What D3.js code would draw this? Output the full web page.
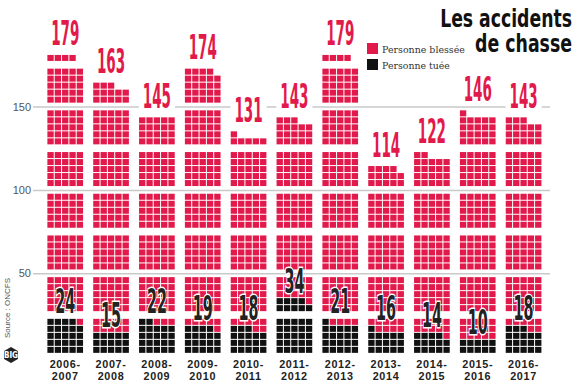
<!DOCTYPE html>
<html>
<head>
<meta charset="utf-8">
<script src="https://cdn.jsdelivr.net/npm/d3@7"></script>
<style>
body { margin: 0; background: #fff; }
</style>
</head>
<body>
<div class="canvas"></div>
<script>
const seasons = ["2006-2007", "2007-2008", "2008-2009", "2009-2010", "2010-2011", "2011-2012",
    "2012-2013", "2013-2014", "2014-2015", "2015-2016", "2016-2017"]
const totals = [179, 163, 145, 174, 131, 143, 179, 114, 122, 146, 143]
const killed = [24, 15, 22, 19, 18, 34, 21, 16, 14, 10, 18]
const yTicks = [50, 100, 150]
const legendLabels = ["Personne blessée", "Personne tuée"]
const titleLines = ["Les accidents", "de chasse"]

const red = "#e2194b"
const black = "#111"
const condensed = "'Liberation Sans Narrow', 'DejaVu Sans Condensed', 'Roboto', sans-serif"
const perRow = 5
const rowsPerBlock = 5
const rowH = 7

const svg = d3.select(".canvas").append("svg")
    .attr("width", 580)
    .attr("height", 386)

const x = d3.scaleBand()
    .domain(seasons)
    .range([42.3, 546.5])
    .paddingInner(0.2)
    .paddingOuter(0.1)
const y = d3.scaleLinear()
    .domain([0, 50])
    .range([356.7, 273.3])

const colW = x.bandwidth() / perRow
const blockSize = perRow * rowsPerBlock
const blockGap = y(0) - y(blockSize) - rowsPerBlock * rowH

// bottom edge of a row of squares, blocks of 5 rows are spaced apart
const rowBottom = row => {
    const block = Math.floor(row / rowsPerBlock)
    return y(block * blockSize) - blockGap / 2 - (row % rowsPerBlock) * rowH
}

// squeeze a text horizontally to a given width (condensed look)
const squeeze = (sel, w) => sel.each(function (d, i) {
    const n = this.getComputedTextLength()
    const target = typeof w === "function" ? w(d, i) : w
    d3.select(this).attr("transform", `scale(${target / n}, 1)`)
})

// grid
const yAxis = d3.axisLeft(y)
    .tickValues(yTicks)
    .tickSize(-(550 - 33))
    .tickPadding(2)
svg.append("g")
    .attr("transform", "translate(33, 0)")
    .call(yAxis)
    .call(g => g.select(".domain").remove())
    .call(g => g.selectAll("line").attr("stroke", "#c9c9c9").attr("stroke-width", 1.5))
    .call(g => g.selectAll("text")
        .attr("fill", "#555")
        .attr("font-size", 11)
        .attr("font-family", "'Liberation Sans', Arial, sans-serif"))

// squares, one per person
const cells = seasons.flatMap((s, i) => d3.range(totals[i]).map(n => ({
    season: s,
    row: Math.floor(n / perRow),
    col: n % perRow,
    dead: n < killed[i]
})))

svg.append("g").selectAll("rect")
    .data(cells)
    .enter()
    .append("rect")
    .attr("x", d => x(d.season) + d.col * colW + 0.5)
    .attr("y", d => rowBottom(d.row) - rowH + 0.5)
    .attr("width", colW - 1)
    .attr("height", rowH - 1)
    .attr("fill", d => d.dead ? black : red)

// totals on top
const topLabels = svg.append("g").selectAll("g")
    .data(seasons)
    .enter()
    .append("g")
    .attr("transform", (d, i) => {
        const top = rowBottom(Math.floor((totals[i] - 1) / perRow)) - rowH
        return `translate(${x(d) + x.bandwidth() / 2}, ${top - 9})`
    })
topLabels.append("rect")
    .attr("x", (d, i) => -String(totals[i]).length * 4.7 - 4)
    .attr("y", -27)
    .attr("width", (d, i) => String(totals[i]).length * 9.4 + 8)
    .attr("height", 29)
    .attr("fill", "#fff")
topLabels.append("text")
    .attr("text-anchor", "middle")
    .attr("font-family", condensed)
    .attr("font-weight", 700)
    .attr("font-size", 34)
    .attr("fill", red)
    .text((d, i) => totals[i])
    .call(squeeze, (d, i) => String(totals[i]).length * 9.4)

// killed labels
svg.append("g").selectAll("g")
    .data(seasons)
    .enter()
    .append("g")
    .attr("transform", (d, i) => {
        const top = rowBottom(Math.floor((killed[i] - 1) / perRow)) - rowH
        return `translate(${x(d) + x.bandwidth() / 2}, ${top - 5})`
    })
    .append("text")
    .attr("text-anchor", "middle")
    .attr("font-family", condensed)
    .attr("font-weight", 700)
    .attr("font-size", 34)
    .attr("fill", "#222")
    .attr("stroke", "#fff")
    .attr("stroke-width", 3)
    .attr("paint-order", "stroke")
    .text((d, i) => killed[i])
    .call(squeeze, (d, i) => String(killed[i]).length * 10)

// season labels, two lines each
const xLines = seasons.flatMap(s => {
    const [a, b] = s.split("-")
    return [{season: s, text: a + "-", line: 0}, {season: s, text: b, line: 1}]
})
svg.append("g").selectAll("text")
    .data(xLines)
    .enter()
    .append("text")
    .attr("x", d => x(d.season) + x.bandwidth() / 2)
    .attr("y", d => 367.5 + d.line * 12.5)
    .attr("text-anchor", "middle")
    .attr("font-family", "'Liberation Sans', Arial, sans-serif")
    .attr("font-weight", 700)
    .attr("font-size", 10.8)
    .attr("letter-spacing", 0.7)
    .attr("fill", "#222")
    .text(d => d.text)

// title
svg.append("g").selectAll("g")
    .data(titleLines)
    .enter()
    .append("g")
    .attr("transform", (d, i) => `translate(572, ${27 + i * 25})`)
    .append("text")
    .attr("text-anchor", "end")
    .attr("font-family", condensed)
    .attr("font-weight", 700)
    .attr("font-size", 25)
    .attr("fill", "#111")
    .text(d => d)
    .call(squeeze, (d, i) => i === 0 ? 132 : 97)

// legend
const legend = svg.append("g").selectAll("g")
    .data(legendLabels)
    .enter()
    .append("g")
    .attr("transform", (d, i) => `translate(367, ${43 + i * 16})`)
legend.append("rect")
    .attr("width", 11)
    .attr("height", 11)
    .attr("fill", (d, i) => i === 0 ? red : black)
legend.append("g")
    .attr("transform", "translate(15, 9.5)")
    .append("text")
    .attr("font-family", "'DejaVu Serif', 'Liberation Serif', serif")
    .attr("font-size", 10)
    .attr("fill", "#333")
    .text(d => d)
    .call(squeeze, (d, i) => i === 0 ? 83 : 68)

// source + logo
svg.append("text")
    .attr("transform", "translate(10, 338) rotate(-90)")
    .attr("font-family", "'Liberation Sans', Arial, sans-serif")
    .attr("font-size", 8)
    .attr("fill", "#555")
    .text("Source : ONCFS")

const hex = d3.range(6).map(k => {
    const a = Math.PI / 6 + k * Math.PI / 3
    return [11 + 8 * Math.cos(a), 355 + 8 * Math.sin(a)]
})
svg.append("path")
    .attr("d", d3.line()(hex) + "Z")
    .attr("fill", "#222")
svg.append("text")
    .attr("x", 11)
    .attr("y", 358)
    .attr("text-anchor", "middle")
    .attr("font-family", condensed)
    .attr("font-weight", 700)
    .attr("font-size", 8)
    .attr("fill", "#fff")
    .text("BIG")
</script>
</body>
</html>
